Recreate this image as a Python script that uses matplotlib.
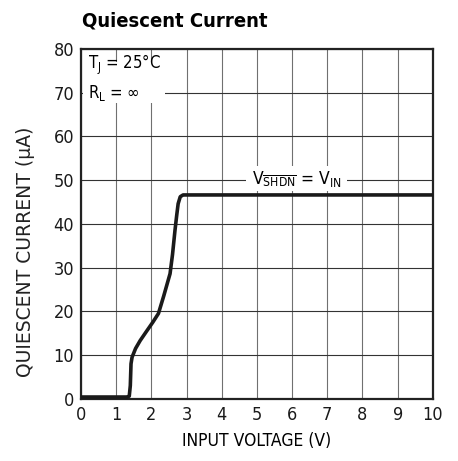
import matplotlib.pyplot as plt
from matplotlib.patches import Rectangle

plt.rcParams['font.family'] = ['DejaVu Sans']
plt.rcParams['font.stretch'] = 'condensed'

# curve
vin = [0.0, 0.5, 1.0, 1.3, 1.37, 1.40, 1.42, 1.45, 1.55, 1.68, 1.85, 2.04, 2.2,
       2.35, 2.53, 2.6, 2.67, 2.72, 2.76, 2.82, 2.9, 3.0, 5.0, 10.0]
iq = [0.4, 0.4, 0.4, 0.4, 0.6, 3.0, 8.0, 9.5, 11.5, 13.3, 15.3, 17.5, 19.5,
      23.5, 28.6, 33.0, 38.5, 42.0, 44.6, 46.2, 46.6, 46.6, 46.6, 46.6]

xticks = list(range(0, 11))
yticks = list(range(0, 81, 10))

fig = plt.figure(figsize=(4.58, 4.61), dpi=100)
ax = fig.add_axes([0.177, 0.135, 0.768, 0.759])
ax.set_axisbelow(True)

ax.plot(vin, iq, color='#1a1a1a', lw=2.6, solid_capstyle='round', zorder=4)

ax.set_xlim(0, 10)
ax.set_ylim(0, 80)
ax.set_xticks(xticks)
ax.set_yticks(yticks)
ax.tick_params(length=0, labelsize=13, pad=5, colors='#1a1a1a')
ax.grid(axis='x', color='#707070', lw=0.8)
ax.grid(axis='y', color='#333333', lw=0.8)
for s in ax.spines.values():
    s.set_linewidth(1.6)
    s.set_color('#222222')

ax.set_xlabel('INPUT VOLTAGE (V)', fontsize=12.5, labelpad=6)
ax.set_ylabel('QUIESCENT CURRENT (µA)', fontsize=13.5, fontstretch='normal', color='#222222')
ax.yaxis.set_label_coords(-0.13, 0.42)

# white patches behind the labels, as in the original
ax.add_patch(Rectangle((0.05, 67.7), 2.35, 9.3, facecolor='white', edgecolor='none', zorder=2))
ax.add_patch(Rectangle((4.7, 47.6), 2.85, 5.7, facecolor='white', edgecolor='none', zorder=2))

ax.text(0.2, 76.4, r'T$_\mathregular{J}$ = 25°C', fontsize=12, va='center', ha='left', zorder=5)
ax.text(0.2, 69.8, r'R$_\mathregular{L}$ = ∞', fontsize=12, va='center', ha='left', zorder=5)
ax.text(6.12, 50.3, r'V$_{\overline{\mathregular{SHDN}}}$ = V$_\mathregular{IN}$', fontsize=12.5,
        va='center', ha='center', zorder=5)

fig.text(0.178, 0.955, 'Quiescent Current', fontsize=14.5, fontweight='bold', va='center', ha='left')

fig.savefig('out.png', dpi=100)
